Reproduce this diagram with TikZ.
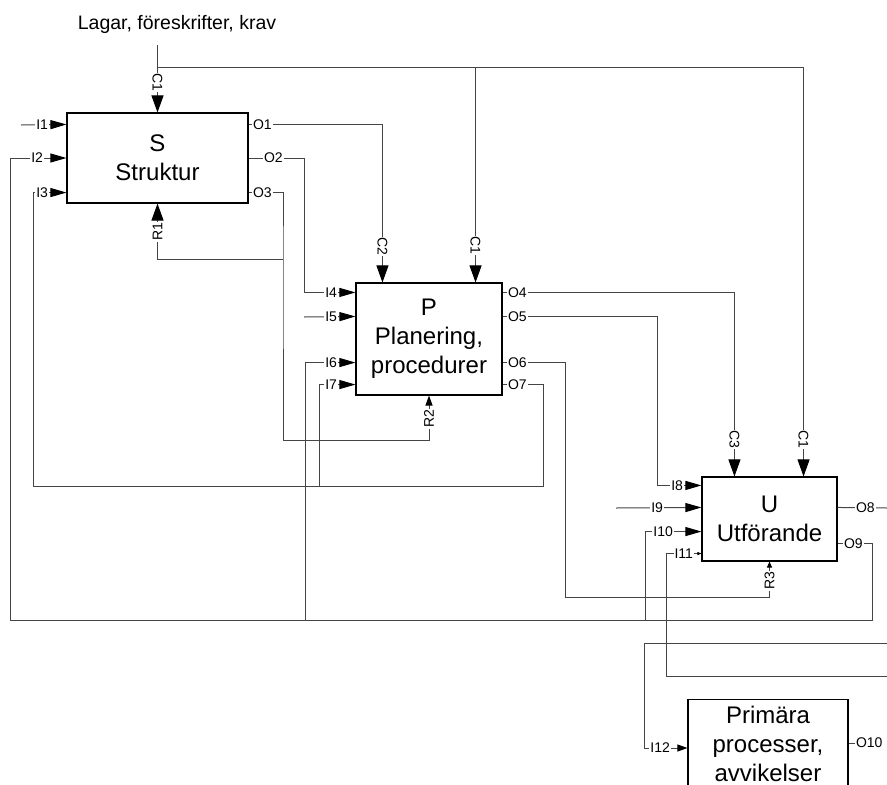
\documentclass[tikz,border=0pt]{standalone}
\usepackage{fontspec}
\setmainfont{Liberation Sans}
\usepackage{tikz}
\usetikzlibrary{positioning,arrows.meta}
\definecolor{linie}{HTML}{454545}

\begin{document}
\begin{tikzpicture}[x=1pt, y=-1pt, line width=1pt,
  box/.style={draw, line width=1.1pt, fill=white, align=center, inner sep=0pt, font=\fontsize{24}{29}\selectfont},
  lbl/.style={fill=white, inner sep=1pt, font=\fontsize{14}{16}\selectfont},
  ln/.style={draw=linie},
  fl/.style={draw=linie, -{Triangle[length=16pt,width=9pt,color=black]}},
  flc/.style={draw=linie, -{Triangle[length=17pt,width=12pt,color=black]}},
  fls/.style={draw=linie, -{Triangle[length=10pt,width=7pt,color=black]}},
  flt/.style={draw=linie, -{Triangle[length=6pt,width=5pt,color=black]}},
  flx/.style={draw=linie, -{Triangle[length=4pt,width=3pt,color=black]}}]
  \useasboundingbox (0,0) rectangle (887,785);
  \clip (0,0) rectangle (887,785);
  \node[font=\fontsize{19.5}{22}\selectfont] (title) at (177,24) {Lagar, föreskrifter, krav};
  \node[box, minimum width=181pt, minimum height=90pt]  (S)  at (157.5,158) {S\\Struktur};
  \node[box, minimum width=146pt, minimum height=112pt] (P)  at (429,339)   {P\\Planering,\\procedurer};
  \node[box, minimum width=135pt, minimum height=84pt]  (U)  at (769.5,519) {U\\Utförande};
  \node[box, anchor=north, minimum width=160pt, inner ysep=6.5pt, text depth=100pt, font=\fontsize{24}{29}\selectfont] (PP) at (768,699) {Primära\\processer,\\avvikelser};
  % ports
  \coordinate (S-i1) at ([yshift=-12pt]S.north west);
  \coordinate (S-i2) at (S.west);
  \coordinate (S-i3) at ([yshift=11pt]S.south west);
  \coordinate (S-o1) at ([yshift=-12pt]S.north east);
  \coordinate (S-o2) at (S.east);
  \coordinate (S-o3) at ([yshift=11pt]S.south east);
  \coordinate (P-c2) at ([xshift=27pt]P.north west);
  \coordinate (P-c1) at ([xshift=-27pt]P.north east);
  \coordinate (P-i4) at ([yshift=-10pt]P.north west);
  \coordinate (P-i5) at ([yshift=-34pt]P.north west);
  \coordinate (P-i6) at ([yshift=33pt]P.south west);
  \coordinate (P-i7) at ([yshift=11pt]P.south west);
  \coordinate (P-o4) at ([yshift=-10pt]P.north east);
  \coordinate (P-o5) at ([yshift=-34pt]P.north east);
  \coordinate (P-o6) at ([yshift=33pt]P.south east);
  \coordinate (P-o7) at ([yshift=11pt]P.south east);
  \coordinate (U-c3) at ([xshift=33pt]U.north west);
  \coordinate (U-c1) at ([xshift=-34pt]U.north east);
  \coordinate (U-i8) at ([yshift=-9pt]U.north west);
  \coordinate (U-i9) at ([yshift=-31pt]U.north west);
  \coordinate (U-i10) at ([yshift=30pt]U.south west);
  \coordinate (U-i11) at ([yshift=8pt]U.south west);
  \coordinate (U-o8) at ([yshift=-31pt]U.north east);
  \coordinate (U-o9) at ([yshift=18pt]U.south east);
  \coordinate (PP-i12) at ([yshift=-49pt]PP.north west);
  \coordinate (PP-o10) at ([yshift=-44pt]PP.north east);
  % free ends and junctions
  \coordinate (c1src) at (157.5,45);
  \coordinate (c1bus) at (157.5,67);
  \coordinate (i1src) at (21,125);
  \coordinate (i5src) at (304,317);
  \coordinate (i9src) at (616,508);
  \coordinate (i11src) at (887,676);
  \coordinate (i12src) at (887,643);
  \coordinate (o8end) at (887,508);
  \coordinate (r1bus) at (283,259);
  \coordinate (bus7) at (33,486);
  \coordinate (j7) at (319,486);
  \coordinate (bus9) at (10,620);
  \coordinate (j6) at (305,620);
  \coordinate (j10) at (645,620);
  % connectors
  \draw[flc] (c1src) -- (S.north);
  \draw[flc] (c1bus) -| (U-c1);
  \draw[flc] (c1bus -| P-c1) -- (P-c1);
  \draw[flc] (S-o1) -| (P-c2);
  \draw[fl] (S-o2) -- ++(56,0) |- (P-i4);
  \draw[fls] (S-o3) -| (r1bus) -- ++(0,181) -| (P.south);
  \draw[flc] (r1bus) -| (S.south);
  \draw[flc] (P-o4) -| (U-c3);
  \draw[fl] (P-o5) -- ++(155,0) |- (U-i8);
  \draw[flt] (P-o6) -- ++(63,0) -- ++(0,235) -| (U.south);
  \draw[fl] (P-o7) -- ++(41,0) |- (bus7) |- (S-i3);
  \draw[fl] (j7) |- (P-i7);
  \draw[fl] (U-o9) -- ++(35,0) |- (bus9) |- (S-i2);
  \draw[fl] (j6) |- (P-i6);
  \draw[fl] (j10) |- (U-i10);
  \draw[ln] (U-o8) -- (o8end);
  \draw[ln] (PP-o10) -- ++(6,0);
  \draw[fl] (i1src) -- (S-i1);
  \draw[fl] (i5src) -- (P-i5);
  \draw[fl] (i9src) -- (U-i9);
  \draw[flx] (i11src) -| ([xshift=-35pt]U-i11) -- (U-i11);
  \draw[fls] (i12src) -| ([xshift=-43pt]PP-i12) -- (PP-i12);
  % labels
  \node[lbl, left=17pt of S-i1] (tI1) {I1};
  \node[lbl, left=22pt of S-i2] (tI2) {I2};
  \node[lbl, left=17pt of S-i3] (tI3) {I3};
  \node[lbl, right=3pt of S-o1] (tO1) {O1};
  \node[lbl, right=14pt of S-o2] (tO2) {O2};
  \node[lbl, right=3pt of S-o3] (tO3) {O3};
  \node[lbl, rotate=-90] (tC1a) at ([yshift=30pt]S.north) {C1};
  \node[lbl, rotate=90] (tR1) at ([yshift=-28pt]S.south) {R1};
  \node[lbl, left=17pt of P-i4] (tI4) {I4};
  \node[lbl, left=17pt of P-i5] (tI5) {I5};
  \node[lbl, left=17pt of P-i6] (tI6) {I6};
  \node[lbl, left=17pt of P-i7] (tI7) {I7};
  \node[lbl, right=4pt of P-o4] (tO4) {O4};
  \node[lbl, right=4pt of P-o5] (tO5) {O5};
  \node[lbl, right=4pt of P-o6] (tO6) {O6};
  \node[lbl, right=4pt of P-o7] (tO7) {O7};
  \node[lbl, rotate=-90] (tC2) at ([yshift=36pt]P-c2) {C2};
  \node[lbl, rotate=-90] (tC1b) at ([yshift=37pt]P-c1) {C1};
  \node[lbl, rotate=90] (tR2) at ([yshift=-23pt]P.south) {R2};
  \node[lbl, left=17pt of U-i8] (tI8) {I8};
  \node[lbl, left=37pt of U-i9] (tI9) {I9};
  \node[lbl, left=27pt of U-i10] (tI10) {I10};
  \node[lbl, left=7pt of U-i11] (tI11) {I11};
  \node[lbl, right=17pt of U-o8] (tO8) {O8};
  \node[lbl, right=5pt of U-o9] (tO9) {O9};
  \node[lbl, rotate=-90] (tC3) at ([yshift=37pt]U-c3) {C3};
  \node[lbl, rotate=-90] (tC1c) at ([yshift=37pt]U-c1) {C1};
  \node[lbl, rotate=90] (tR3) at ([yshift=-19pt]U.south) {R3};
  \node[lbl, left=16pt of PP-i12] (tI12) {I12};
  \node[lbl, right=6pt of PP-o10] (tO10) {O10};
\end{tikzpicture}
\end{document}
